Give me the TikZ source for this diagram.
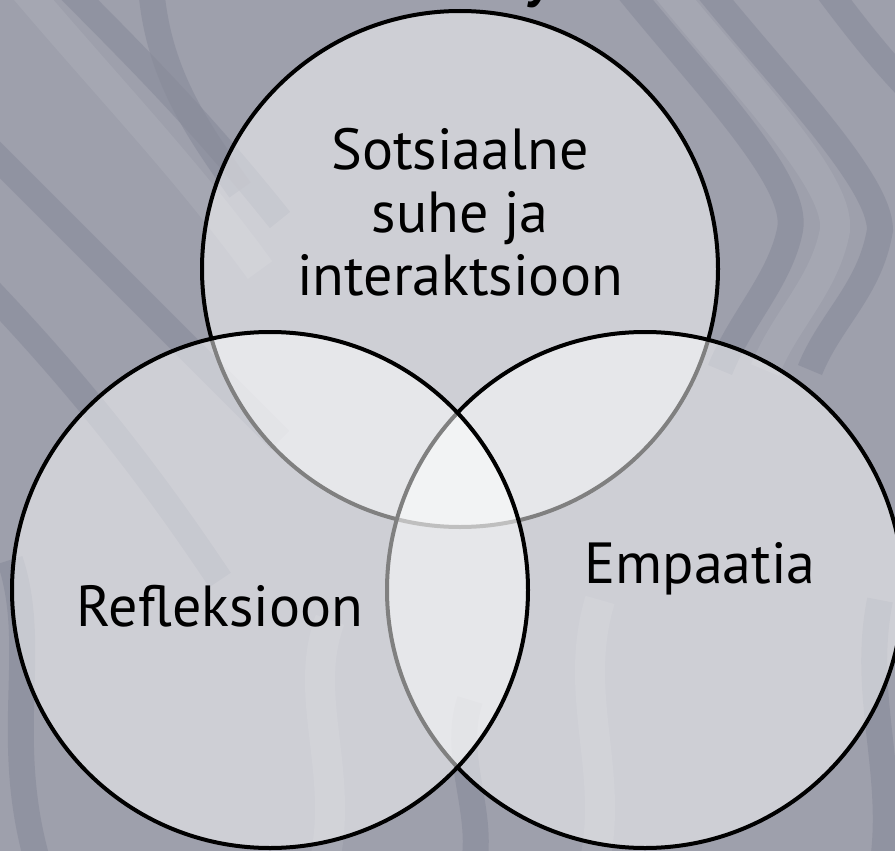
\documentclass[tikz,border=0pt]{standalone}
\usepackage{fontspec}
\setmainfont{PT Sans}
\begin{document}
\begin{tikzpicture}[x=1pt,y=-1pt,
  bgbase/.style={fill=bgcol},
  bandd/.style={draw=banddark,line width=26pt,opacity=0.6},
  bandl/.style={draw=bandlight,line width=30pt,opacity=0.45},
  venn/.style={circle,draw=black,line width=4pt,fill=white,fill opacity=0.5,minimum size=516pt,inner sep=0pt},
  lbl/.style={font=\fontsize{58}{63}\selectfont,text=black,inner sep=0pt,anchor=base}]
\definecolor{bgcol}{RGB}{158,160,172}
\definecolor{banddark}{RGB}{136,139,154}
\definecolor{bandlight}{RGB}{174,176,186}
\useasboundingbox (0,0) rectangle (895,851);
\fill[bgbase] (0,0) rectangle (895,851);
\begin{scope}
\clip (0,0) rectangle (895,851);
% background swirl bands
\draw[bandd] (-60,100) .. controls (60,220) and (160,320) .. (280,440);
\draw[bandd] (-60,240) .. controls (60,360) and (140,460) .. (220,580);
\draw[bandd] (40,-40) .. controls (140,60) and (200,120) .. (280,220);
\draw[bandd] (150,-40) .. controls (150,60) and (190,120) .. (240,190);
\draw[bandl] (0,-40) .. controls (100,80) and (180,160) .. (260,270);
\draw[bandd] (620,-20) .. controls (700,80) and (800,180) .. (790,230) .. controls (780,280) and (740,320) .. (720,370);
\draw[bandd] (700,-20) .. controls (780,80) and (880,180) .. (880,230) .. controls (870,290) and (830,320) .. (810,370);
\draw[bandl] (660,-20) .. controls (740,80) and (840,180) .. (835,230) .. controls (825,285) and (785,320) .. (765,370);
\draw[bandd] (820,-20) .. controls (850,20) and (880,60) .. (920,100);
\draw[bandd] (10,560) .. controls (40,650) and (0,740) .. (40,870);
\draw[bandd] (470,700) .. controls (450,760) and (490,820) .. (470,880);
\draw[bandd] (880,600) .. controls (860,700) and (900,780) .. (880,880);
\draw[bandl] (330,620) .. controls (300,700) and (350,780) .. (320,880);
\draw[bandl] (600,600) .. controls (570,700) and (620,780) .. (590,880);
\end{scope}
% circles (order matters for the grey under-lines)
\node[venn] (top) at (460,269) {};
\node[venn] (right) at (645,590) {};
\node[venn] (left) at (270,590) {};
% cut-off title fragment
\begin{scope}
\clip (0,0) rectangle (895,851);
\node[font=\fontsize{80}{90}\selectfont,inner sep=0pt,anchor=base] (title) at (540,-8) {y};
\end{scope}
% labels
\node[lbl] (t1) at (460,169) {Sotsiaalne};
\node[lbl] (t2) at (460,232) {suhe ja};
\node[lbl] (t3) at (460,295) {interaktsioon};
\node[lbl] (refl) at (220,626) {Refleksioon};
\node[lbl] (emp) at (700,583) {Empaatia};
\end{tikzpicture}
\end{document}
